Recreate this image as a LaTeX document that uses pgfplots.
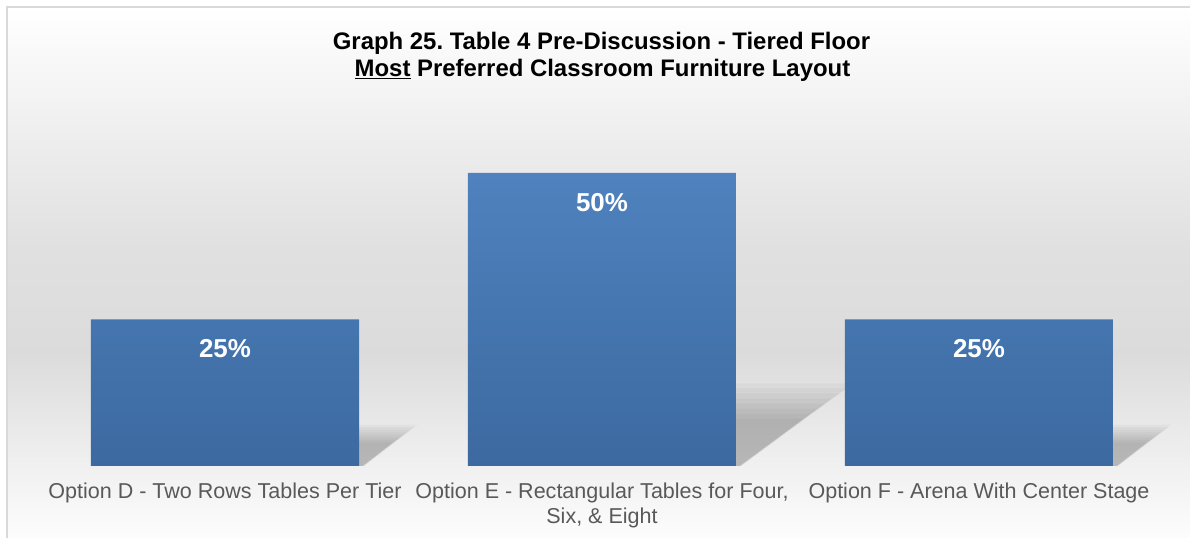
\documentclass[border=0pt]{standalone}
\usepackage{pgfplots}
\pgfplotsset{compat=1.18}
\usepackage{fontspec}
\setmainfont{Liberation Sans}
\frenchspacing
\definecolor{barTop}{HTML}{4F82BE}
\definecolor{barBot}{HTML}{3C69A0}
\definecolor{lbl}{HTML}{595959}
\definecolor{bdr}{HTML}{D9D9D9}
\pgfdeclareverticalshading{bgshade}{100bp}{color(0bp)=(white!99!black); color(25bp)=(white!99!black); color(32.5bp)=(white!93.7!black); color(42.5bp)=(white!86!black); color(52.5bp)=(white!88!black); color(65bp)=(white!94.5!black); color(75bp)=(white); color(100bp)=(white)}
\begin{document}
\begin{tikzpicture}[x=1bp,y=1bp]
\path[use as bounding box] (0,0) rectangle (1190,538);
\shade[shading=bgshade] (7,0) rectangle (1190,531);
\draw[bdr, line width=1.5bp] (7,-2) -- (7,531) -- (1192,531);
\node[font=\fontsize{24}{28}\selectfont\bfseries, anchor=base, inner sep=0pt] at (601.5,488) {Graph 25. Table 4 Pre-Discussion - Tiered Floor};
\node[font=\fontsize{24}{28}\selectfont\bfseries, anchor=base, inner sep=0pt] at (602.5,461) {\underline{Most} Preferred Classroom Furniture Layout};
\begin{axis}[
  at={(36.5bp,72bp)}, anchor=south west,
  scale only axis, width=1131bp, height=366.25bp,
  xmin=-0.5, xmax=2.5, ymin=0, ymax=62.5,
  hide y axis, axis x line*=bottom,
  x axis line style={draw=none},
  xtick={0,1,2},
  xticklabels={{Option D - Two Rows Tables Per Tier},{Option E - Rectangular Tables for Four,\\Six, \& Eight},{Option F - Arena With Center Stage}},
  major tick length=0pt, xtick style={draw=none},
  xticklabel style={font=\fontsize{21.6}{25}\selectfont, text=lbl, align=center, inner sep=0pt, yshift=-17bp},
  /pgf/number format/assume math mode=true,
  clip=false,
]
\pgfplotsinvokeforeach{1.15,1.08,1.01,0.94,0.87,0.8,0.73,0.66}{
  \fill[black, fill opacity=0.03] (axis cs:0.3554,0) -- (axis cs:0.3554,{#1*6.125}) -- (axis cs:{0.3554+#1*0.135},{#1*6.125}) -- (axis cs:{0.3554+#1*0.012},0) -- cycle;
  \fill[black, fill opacity=0.03] (axis cs:1.3554,0) -- (axis cs:1.3554,{#1*12.25}) -- (axis cs:{1.3554+#1*0.27},{#1*12.25}) -- (axis cs:{1.3554+#1*0.012},0) -- cycle;
  \fill[black, fill opacity=0.03] (axis cs:2.3554,0) -- (axis cs:2.3554,{#1*6.125}) -- (axis cs:{2.3554+#1*0.135},{#1*6.125}) -- (axis cs:{2.3554+#1*0.012},0) -- cycle;
}
\addplot[ybar, bar width=268bp, draw=none, top color=barTop, bottom color=barBot,
  nodes near coords={\pgfmathprintnumber{\pgfplotspointmeta}\%},
  nodes near coords align={below},
  every node near coord/.append style={font=\fontsize{26}{30}\selectfont\bfseries, text=white, anchor=north, inner sep=0pt, yshift=-20bp}]
  coordinates {(0,25) (1,50) (2,25)};
\end{axis}
\end{tikzpicture}
\end{document}
